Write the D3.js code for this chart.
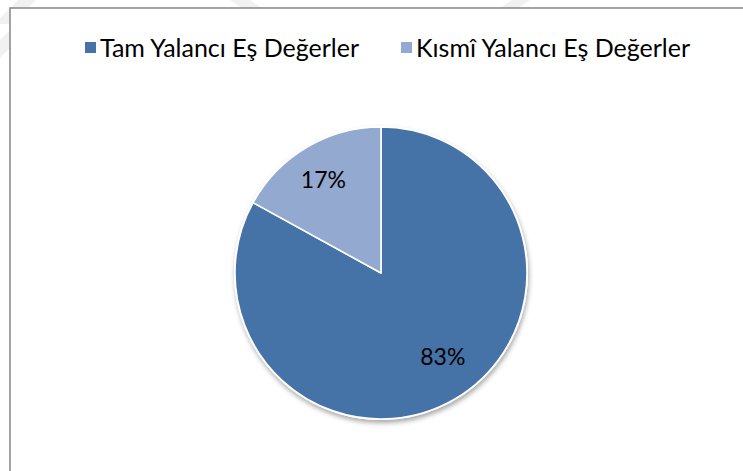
<!DOCTYPE html>
<html>
<head>
<meta charset="utf-8">
<script src="https://cdn.jsdelivr.net/npm/d3@7"></script>
<style>
  body { margin: 0; background: #fff; }
  text { font-family: Lato, "Open Sans", sans-serif; fill: #000; }
</style>
</head>
<body>
<div id="chart"></div>
<script>
// Data
const categories = ['Tam Yalancı Eş Değerler', 'Kısmî Yalancı Eş Değerler']
const values = [83, 17]
const colors = ['#4572a7', '#93a9d0']

// Dimensions
const width = 743
const height = 471
const cx = 381
const cy = 273
const radius = 146

const svg = d3.select('#chart')
  .append('svg')
  .attr('width', width)
  .attr('height', height)

// filtro ombra sotto la torta
const defs = svg.append('defs')
const shadow = defs.append('filter')
  .attr('id', 'shadow')
  .attr('x', '-20%').attr('y', '-20%')
  .attr('width', '140%').attr('height', '140%')
shadow.append('feDropShadow')
  .attr('dx', 1).attr('dy', 3)
  .attr('stdDeviation', 2.5)
  .attr('flood-color', '#000')
  .attr('flood-opacity', 0.35)

// watermark diagonals (very faint, only visible outside the frame)
const wm = svg.append('g').attr('fill', '#f1f1f1')
wm.append('polygon').attr('points', '18,0 36,0 12,24 0,24 0,18')
wm.append('polygon').attr('points', '230,0 250,0 262,8 242,8')
wm.append('polygon').attr('points', '500,8 512,0 530,0 518,8')
wm.append('polygon').attr('points', '0,40 10,30 10,48 0,58')

// chart area
svg.append('rect')
  .attr('x', 10)
  .attr('y', 8)
  .attr('width', width + 20)
  .attr('height', height + 20)
  .attr('fill', '#fff')
  .attr('stroke', '#8c8c8c')
  .attr('stroke-width', 1.6)

// Pie
const pie = d3.pie().sort(null).value(d => d)
const arcs = pie(values)

const arc = d3.arc().innerRadius(0).outerRadius(radius)

const ctr = svg.append('g')
  .attr('transform', `translate(${cx}, ${cy})`)

ctr.append('circle')
  .attr('r', radius + 1)
  .attr('fill', '#fff')
  .attr('filter', 'url(#shadow)')

ctr.selectAll('path')
  .data(arcs)
  .join('path')
  .attr('d', arc)
  .attr('fill', (d, i) => colors[i])
  .attr('stroke', '#fff')
  .attr('stroke-width', 1.6)
  .attr('stroke-linejoin', 'round')

// etichette: Excel sposta un po' l'etichetta della fetta grande
const labelShift = [-0.1, -0.02]
const labelRadius = [0.715, 0.75]
ctr.selectAll('text')
  .data(arcs)
  .join('text')
  .attr('transform', (d, i) => {
    const a = (d.startAngle + d.endAngle) / 2 + labelShift[i]
    const r = radius * labelRadius[i]
    return `translate(${r * Math.sin(a)}, ${-r * Math.cos(a)})`
  })
  .attr('text-anchor', 'middle')
  .attr('dy', '0.36em')
  .style('font-size', '23px')
  .text(d => d.data + '%')

// Legend
const legendX = [85, 401]
const legend = svg.append('g')
  .selectAll('g')
  .data(categories)
  .join('g')
  .attr('transform', (d, i) => `translate(${legendX[i]}, 42)`)

legend.append('rect')
  .attr('width', 11)
  .attr('height', 11)
  .attr('fill', (d, i) => colors[i])

legend.append('text')
  .attr('x', 15)
  .attr('y', 15)
  .style('font-size', '25px')
  .text(d => d)
</script>
</body>
</html>
